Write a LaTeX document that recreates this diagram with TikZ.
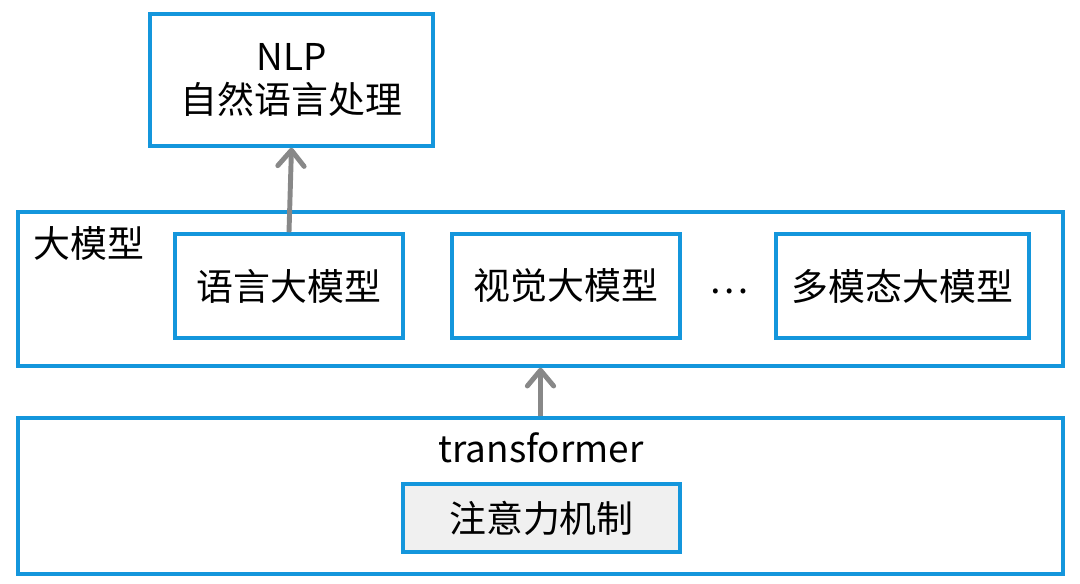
\documentclass[tikz,border=0pt]{standalone}
\usepackage{fontspec}
\setmainfont{Noto Sans CJK SC}
\usetikzlibrary{arrows.meta}
\usetikzlibrary{positioning}
\definecolor{mblue}{RGB}{20,150,220}
\definecolor{mgray}{RGB}{136,136,136}
\definecolor{mfill}{RGB}{240,240,240}
\tikzset{box/.style = {draw=mblue, line width=2pt, inner sep=0pt,
                       align=center, font=\fontsize{21}{25}\selectfont}}
\tikzset{flow/.style = {draw=mgray, line width=2.8pt,
                        -{Straight Barb[length=9pt, width=15pt, round]}}}
\tikzset{label/.style = {inner sep=0pt, font=\fontsize{21}{25}\selectfont}}

\begin{document}
\begin{tikzpicture}[x=0.02cm, y=-0.02cm]
    \useasboundingbox (0, 0) rectangle (1080, 583);

    \node [box, minimum width=5.66cm, minimum height=2.64cm] (nlp) at (291.5, 80) {NLP\\自然语言处理};

    \node [box, minimum width=20.9cm, minimum height=3.08cm] (big) at (540.5, 289) {};
    \node [label, anchor=west] (bigname) at (33, 243) {大模型};
    \node [box, minimum width=4.56cm, minimum height=2.08cm] (llm) at (289, 286) {语言大模型};
    \node [box, minimum width=4.56cm, minimum height=2.08cm] (vlm) at (566, 286) {视觉大模型};
    \node [label] (dots) at (729, 291) {…};
    \node [box, minimum width=5.06cm, minimum height=2.08cm] (mlm) at (902.5, 286) {多模态大模型};

    \node [box, minimum width=20.9cm, minimum height=3.12cm] (tf) at (540.5, 496) {};
    \node [label] (tfname) at (541, 448) {transformer};
    \node [box, fill=mfill, minimum width=5.54cm, minimum height=1.36cm] (attn) at (541.5, 518) {注意力机制};

    \draw [flow] (llm.north) -- (nlp.south);
    \draw [flow] (tf.north) -- (big.south);
\end{tikzpicture}
\end{document}
